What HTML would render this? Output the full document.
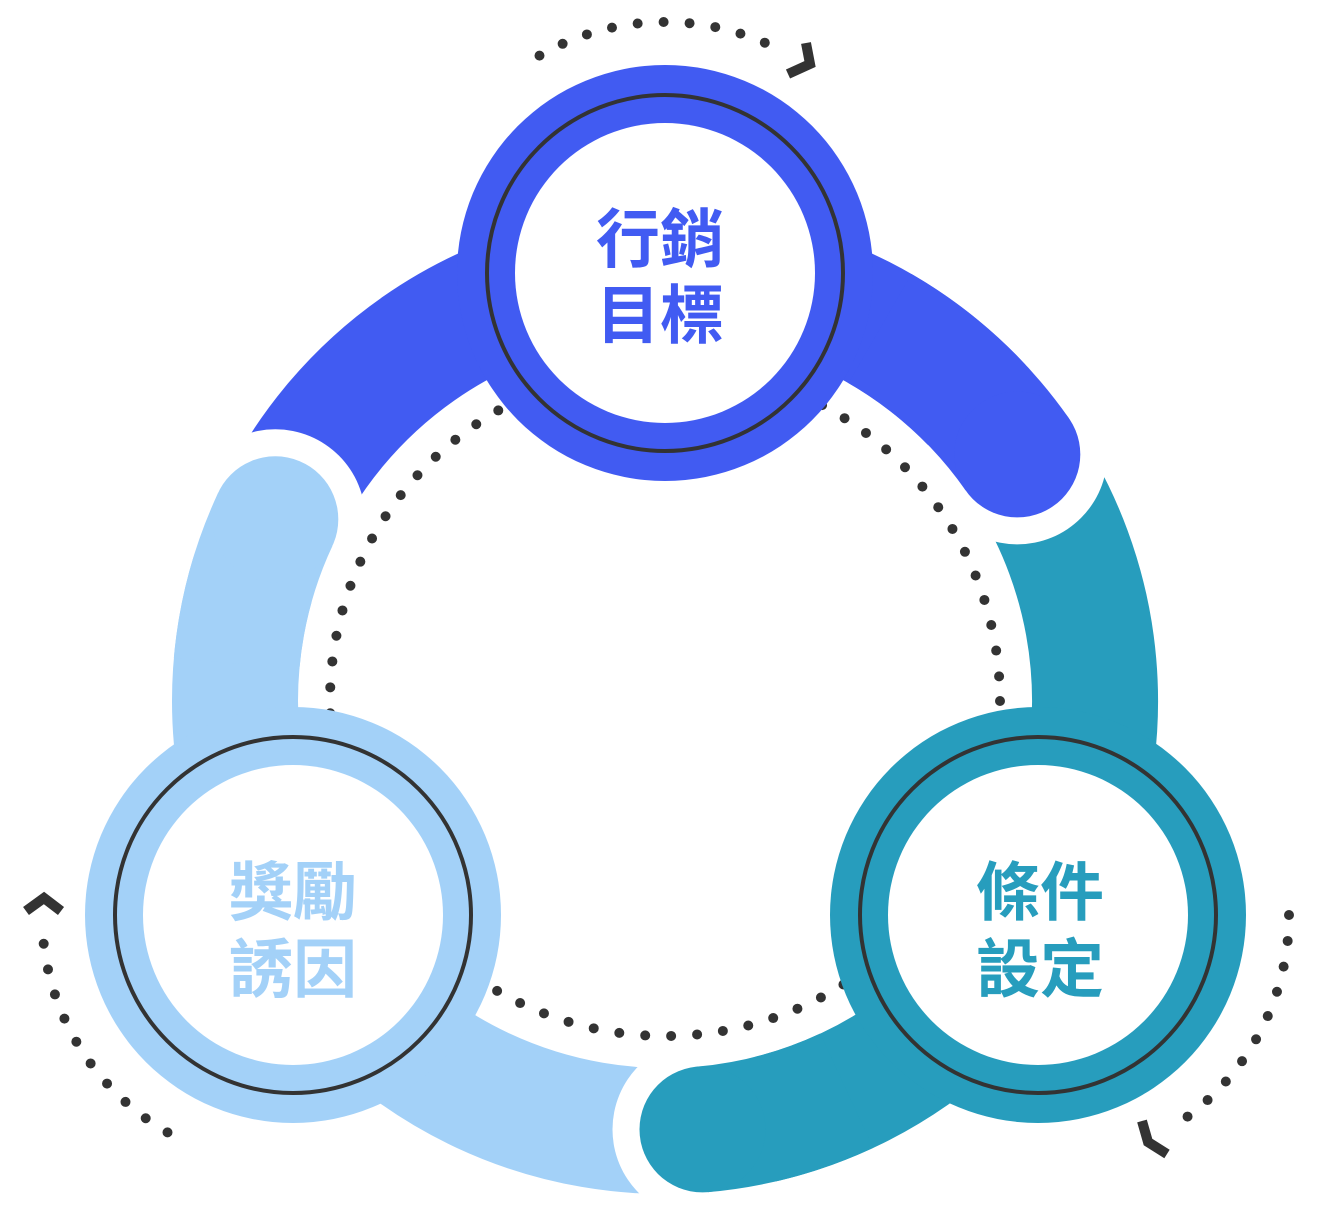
<!DOCTYPE html>
<html><head><meta charset="utf-8"><style>
html,body{margin:0;padding:0;background:#fff;}
svg{display:block}
text{font-family:"Liberation Sans","Noto Sans CJK TC",sans-serif;font-weight:bold;font-size:64px;text-anchor:middle}
</style></head><body>
<svg width="1319" height="1224" viewBox="0 0 1319 1224">
<circle cx="665" cy="701" r="335" fill="none" stroke="#333" stroke-width="10" stroke-linecap="round" stroke-dasharray="0 26"/>
<g fill="none" stroke-width="126">
<path d="M275.3 519.3 A430 430 0 0 1 1017.3 454.4" stroke="#415bf2"/>
<path d="M1017.3 454.4 A430 430 0 0 1 702.5 1129.4" stroke="#279dbd"/>
<path d="M702.5 1129.4 A430 430 0 0 1 275.3 519.3" stroke="#a3d1f8"/>
</g>
<g fill="none">
<circle cx="1017.3" cy="454.4" r="90" fill="#fff"/>
<path d="M880 328.6 A430 430 0 0 1 1017.3 454.4" stroke="#415bf2" stroke-width="126"/>
<circle cx="1017.3" cy="454.4" r="63" fill="#415bf2"/>

<circle cx="702.5" cy="1129.4" r="90" fill="#fff"/>
<path d="M846.7 1090.7 A430 430 0 0 1 702.5 1129.4" stroke="#279dbd" stroke-width="126"/>
<circle cx="702.5" cy="1129.4" r="63" fill="#279dbd"/>

<circle cx="275.3" cy="519.3" r="90" fill="#fff"/>
<path d="M236.6 663.5 A430 430 0 0 1 275.3 519.3" stroke="#a3d1f8" stroke-width="126"/>
<circle cx="275.3" cy="519.3" r="63" fill="#a3d1f8"/>
</g>
<g>
<circle cx="665" cy="273" r="208" fill="#415bf2"/>
<circle cx="665" cy="273" r="178" fill="none" stroke="#333" stroke-width="4"/>
<circle cx="665" cy="273" r="150" fill="#fff"/>
<circle cx="293" cy="915" r="208" fill="#a3d1f8"/>
<circle cx="293" cy="915" r="178" fill="none" stroke="#333" stroke-width="4"/>
<circle cx="293" cy="915" r="150" fill="#fff"/>
<circle cx="1038" cy="915" r="208" fill="#279dbd"/>
<circle cx="1038" cy="915" r="178" fill="none" stroke="#333" stroke-width="4"/>
<circle cx="1038" cy="915" r="150" fill="#fff"/>
</g>
<text x="660" y="262" fill="#415bf2">行銷</text>
<text x="660" y="338" fill="#415bf2">目標</text>
<text x="293" y="915" fill="#a3d1f8">獎勵</text>
<text x="293" y="992" fill="#a3d1f8">誘因</text>
<text x="1040" y="915" fill="#279dbd">條件</text>
<text x="1040" y="992" fill="#279dbd">設定</text>
<g fill="none" stroke="#333" stroke-width="10" stroke-linecap="round" stroke-dasharray="0 26">
<path d="M539.5 55.6 A251 251 0 0 1 779 49.4"/>
<path d="M167.5 1132.4 A251 251 0 0 1 43 936.9"/>
<path d="M1289 915 A251 251 0 0 1 1174.7 1125.5"/>
</g>
<g fill="none" stroke="#333" stroke-width="10" stroke-linejoin="miter">
<polyline points="806,43 810,64 788,74"/>
<polyline points="26,911 44,898 61,911"/>
<polyline points="1142,1121 1148,1142 1167,1154"/>
</g>
</svg>
</body></html>
